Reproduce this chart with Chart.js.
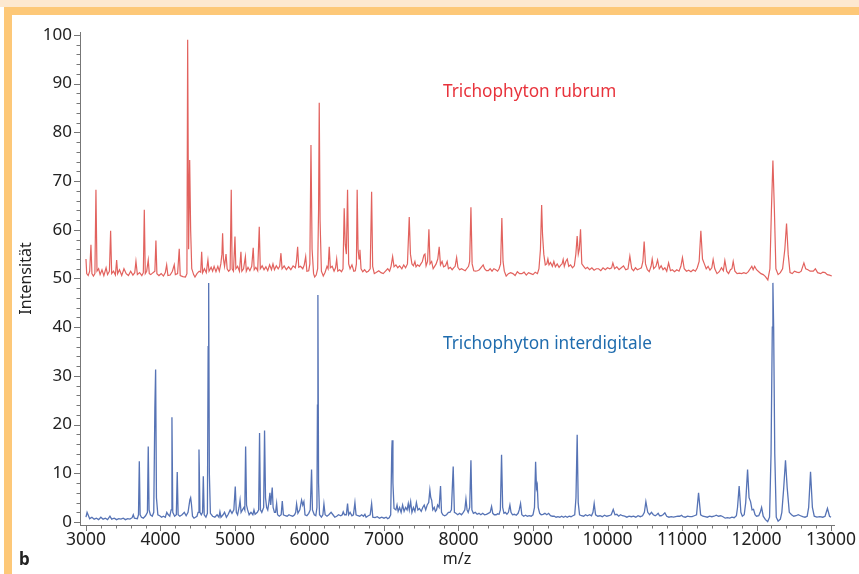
<!DOCTYPE html>
<html>
<head>
<meta charset="utf-8">
<script src="https://cdn.jsdelivr.net/npm/chart.js@4.4.1/dist/chart.umd.min.js"></script>
<style>
  html, body { margin: 0; padding: 0; background: #fff; }
  #wrap { position: relative; width: 859px; height: 574px; overflow: hidden; font-family: "Noto Sans", sans-serif; }
  .strip { position: absolute; left: 0; top: 0; width: 859px; height: 7px; background: #fde8d0; }
  .band { position: absolute; left: 4px; top: 7px; width: 855px; height: 8px; background: #fdc878; }
  .bar { position: absolute; left: 4px; top: 7px; width: 8px; height: 567px; background: #fdc878; }
  canvas { position: absolute; left: 0; top: 0; }
  .lbl { position: absolute; white-space: nowrap; font-size: 17.2px; }
  #red { left: 443px; top: 79px; color: #e8333c; }
  #blue { left: 443px; top: 331px; color: #1f6cae; }
  #panel { left: 19px; top: 547px; font-weight: bold; font-size: 17px; color: #222; }
</style>
</head>
<body>
<div id="wrap">
  <div class="strip"></div>
  <div class="band"></div>
  <div class="bar"></div>
  <canvas id="spectrumChart" width="859" height="574"></canvas>
  <div class="lbl" id="red">Trichophyton rubrum</div>
  <div class="lbl" id="blue">Trichophyton interdigitale</div>
  <div class="lbl" id="panel">b</div>
</div>
<script>
// tick labels
var xTicks = [3000, 4000, 5000, 6000, 7000, 8000, 9000, 10000, 11000, 12000, 13000];
var yTicks = [0, 10, 20, 30, 40, 50, 60, 70, 80, 90, 100];

// Trichophyton rubrum, [m/z, Intensität] (drawn with +50 offset as in the figure)
var rubrum = [
  [3000,54],[3010,51],[3030,50.6],[3050,51.5],[3067,56.9],[3080,51],[3100,50.5],[3120,51],[3134,68.2],[3148,51.5],
  [3170,52],[3190,50.8],[3215,51.8],[3240,50.6],[3270,52.2],[3290,50.8],[3315,51.5],[3331,59.8],[3345,51],[3370,51.5],
  [3395,50.7],[3412,53.8],[3425,51],[3450,51.8],[3480,50.6],[3510,52],[3540,51],[3570,50.6],[3600,51.5],[3630,50.7],
  [3655,51.2],[3671,53.5],[3690,50.8],[3720,51.2],[3750,50.6],[3770,51.2],[3783,64.1],[3796,51],[3815,51.5],[3836,53.8],
  [3850,51],[3870,50.8],[3900,51.2],[3925,51.5],[3939,57.8],[3952,51],[3980,50.6],[4010,51],[4040,50.5],[4065,51.2],
  [4083,52.8],[4100,50.6],[4130,50.7],[4160,51.5],[4185,52.8],[4200,50.8],[4230,51],[4252,56.1],[4265,50.6],[4300,50.4],
  [4335,50.3],[4355,51],[4365,99],[4378,56],[4392,74.3],[4405,60],[4420,52],[4445,50.8],[4463,50.3],[4490,51],
  [4520,51.5],[4540,51.3],[4553,55.5],[4566,51.2],[4590,52],[4615,51.2],[4637,53.8],[4652,51.5],[4680,52.3],[4700,51.5],
  [4720,52.5],[4745,51.4],[4770,52.5],[4790,51.5],[4810,53],[4825,55],[4834,59.3],[4845,54],[4860,52.5],[4880,55],
  [4895,52],[4915,51.5],[4935,51.8],[4950,68.2],[4962,52],[4980,51.5],[5000,58.6],[5012,52],[5035,52.5],[5060,51.5],
  [5080,55.5],[5092,51.5],[5115,52],[5140,54.5],[5152,51.5],[5175,52.3],[5200,51.6],[5225,52.5],[5245,56.3],[5258,51.8],
  [5280,52.3],[5305,51.6],[5326,60.6],[5340,52],[5365,52.6],[5390,51.8],[5415,52.4],[5440,51.6],[5465,52.8],[5490,51.8],
  [5510,53],[5530,51.8],[5555,52.6],[5580,52],[5600,52.5],[5617,55.2],[5632,52],[5660,52.6],[5690,51.8],[5720,52.4],
  [5750,51.8],[5780,52.6],[5810,52.2],[5825,53.5],[5841,56.5],[5856,52.3],[5880,52.5],[5910,52],[5930,52.8],[5949,54.5],
  [5965,51.5],[5990,51.6],[6005,53],[6020,77.4],[6035,56],[6055,51],[6070,50.3],[6090,50.7],[6110,52],[6122,64],
  [6131,86.1],[6142,62],[6160,51.5],[6185,50.5],[6210,51.3],[6235,52.5],[6250,52],[6265,56.5],[6280,52.2],[6305,52.5],
  [6330,51.5],[6350,52.2],[6365,54],[6380,51.5],[6405,51.8],[6430,51.4],[6450,52],[6466,64.4],[6480,57],[6495,55],
  [6511,68.2],[6526,53],[6545,52],[6570,52.8],[6595,51.5],[6615,51.6],[6630,53],[6640,68.2],[6652,56],[6665,54],
  [6677,55.9],[6692,52],[6715,51.4],[6740,51.8],[6765,51.3],[6790,51.5],[6815,52],[6834,67.8],[6848,52.5],[6870,51],
  [6900,51.3],[6930,51.6],[6960,51.2],[6990,51],[7020,51.5],[7050,52],[7075,51.5],[7095,52.5],[7116,54.5],[7135,52.4],
  [7160,52.8],[7185,52.2],[7210,52.6],[7240,52],[7265,52.8],[7290,52.2],[7315,53],[7339,62.6],[7355,55],[7375,53],
  [7395,52.6],[7415,53.5],[7430,52.4],[7450,52.8],[7475,52.5],[7495,53],[7515,53.5],[7536,54.8],[7550,55],[7565,52.6],
  [7585,53.5],[7603,60.1],[7618,53],[7640,53.5],[7660,52],[7680,52.5],[7700,53],[7722,54],[7741,56.5],[7758,52.8],
  [7780,53.5],[7800,52.4],[7825,52.6],[7848,53.5],[7865,52],[7890,52.3],[7915,51.8],[7935,52.2],[7955,52.5],[7975,54.3],
  [7992,52.3],[8015,51.8],[8040,52],[8065,51.8],[8090,51.6],[8110,52],[8135,52.5],[8150,53.5],[8167,64.6],[8183,53],
  [8205,51.6],[8230,51.5],[8255,51.6],[8280,51.8],[8305,52.3],[8331,52.8],[8350,52],[8375,51.6],[8400,51.6],[8425,52],
  [8450,51.5],[8475,52],[8500,51.8],[8525,51.5],[8545,52],[8565,53],[8582,62.4],[8598,53.5],[8615,51.5],[8640,50.5],
  [8670,51],[8700,51.2],[8730,51],[8760,50.6],[8790,51.4],[8820,51],[8850,51],[8880,51.3],[8910,50.7],[8940,51.2],
  [8970,51],[9000,50.8],[9030,51.3],[9060,51],[9080,52],[9100,56],[9116,65.1],[9128,59],[9145,55],[9165,52.8],
  [9185,53],[9200,54],[9215,52.8],[9235,53.3],[9260,52.5],[9280,53.5],[9300,52.4],[9325,53],[9350,52.3],[9375,52.8],
  [9390,53],[9405,53.9],[9420,52.5],[9440,53.5],[9460,54],[9480,52.5],[9505,52.8],[9530,52.2],[9555,52.6],[9575,55],
  [9593,58.7],[9608,55],[9622,56],[9638,60.1],[9655,53],[9680,52.5],[9705,52],[9730,52.3],[9760,51.8],[9790,52.2],
  [9820,51.7],[9850,52],[9880,52],[9910,51.6],[9940,52.2],[9970,51.8],[10000,52.2],[10030,52],[10055,52.2],[10072,53.2],
  [10095,52],[10125,52.4],[10155,51.8],[10185,52.2],[10215,52.6],[10245,51.8],[10275,52],[10300,54.6],[10325,52],[10350,51.6],
  [10375,52.2],[10400,51.8],[10430,52],[10455,52.2],[10475,53.5],[10492,57.6],[10510,53],[10535,51.8],[10560,51.4],[10585,52.5],
  [10600,54],[10620,52],[10650,52.5],[10672,53.8],[10695,52],[10720,52.6],[10745,51.8],[10770,52.2],[10795,51.5],[10820,53.2],
  [10845,51.6],[10870,51.8],[10900,51.4],[10930,51.8],[10960,51.5],[10985,52.5],[11006,54.3],[11030,52],[11060,51.5],[11090,51.7],
  [11120,51.4],[11150,51.8],[11180,51.5],[11205,52.2],[11230,53.5],[11253,59.8],[11275,54],[11300,53],[11325,52],[11350,52.5],
  [11375,51.7],[11400,52.2],[11418,53.9],[11440,52],[11470,51],[11500,51.4],[11530,52.2],[11555,51.6],[11575,53.7],[11600,51.5],
  [11625,51],[11650,51.8],[11670,52],[11687,53.5],[11710,51.5],[11740,51],[11770,51.1],[11800,51],[11830,51.2],[11860,51],
  [11890,51.4],[11915,52],[11937,52.5],[11955,51.8],[11975,52.5],[12000,51.8],[12030,51.4],[12060,51],[12090,50.8],[12120,50.4],
  [12152,49.7],[12180,52],[12200,64],[12220,74.2],[12240,64],[12260,52],[12290,50.8],[12320,51.2],[12350,52],[12380,56],
  [12403,61.3],[12425,55],[12450,51.2],[12480,51],[12510,51.5],[12540,51.3],[12570,51.2],[12600,51.5],[12636,53.2],[12660,52],
  [12690,51.8],[12720,51.5],[12762,51.5],[12790,52],[12820,51.2],[12860,51],[12890,51.3],[12920,51.2],[12950,50.8],[12980,50.7],
  [13010,50.5]
];

// Trichophyton interdigitale, [m/z, Intensität]
var interdigitale = [
  [3000,1],[3015,2],[3031,1.4],[3050,0.7],[3080,1],[3110,0.6],[3140,0.8],[3170,0.5],[3200,1],[3230,0.6],
  [3260,0.8],[3290,0.5],[3322,1.2],[3345,0.6],[3380,0.8],[3410,0.5],[3440,0.7],[3470,0.6],[3500,0.8],[3530,0.5],
  [3560,0.7],[3590,0.6],[3620,0.9],[3635,1.5],[3650,0.8],[3690,0.7],[3705,1.5],[3716,12.5],[3727,1.5],[3745,1],
  [3770,0.8],[3800,1.3],[3825,2],[3836,15.5],[3847,2.5],[3865,1.5],[3890,1.2],[3910,2],[3925,23.5],[3935,31.3],
  [3946,5],[3965,1.5],[3990,1.3],[4015,1],[4040,1.2],[4065,1],[4085,2],[4100,1.6],[4125,1.2],[4143,2.5],
  [4154,21.5],[4165,2],[4190,1.2],[4213,1.5],[4225,10.3],[4237,1.5],[4260,1.2],[4290,1.5],[4320,2],[4345,1.3],
  [4370,2],[4395,4.6],[4405,5],[4415,3.8],[4430,1.2],[4450,0.8],[4470,1],[4490,1.2],[4505,2],[4517,14.9],
  [4530,2],[4548,1.5],[4565,2],[4575,9.4],[4587,1.5],[4610,1],[4630,1.8],[4640,36],[4647,49.1],[4656,10],
  [4670,1.8],[4700,1.2],[4730,1],[4760,1.5],[4785,1],[4798,2.1],[4812,1],[4840,1.5],[4860,2],[4885,1],
  [4910,1.6],[4935,2.5],[4960,1.8],[4985,2.5],[5004,7.3],[5018,2],[5035,1.5],[5055,3],[5068,4.5],[5082,2],
  [5100,2.5],[5120,3],[5132,2.5],[5143,15.5],[5155,3.5],[5170,2.5],[5190,1.5],[5215,2],[5240,1.5],[5255,2.5],
  [5270,1.6],[5300,2],[5318,2.5],[5330,18.3],[5342,2.5],[5360,2],[5385,3],[5397,18.8],[5410,5],[5425,3],
  [5440,2.5],[5455,4],[5469,6],[5480,3.5],[5500,7.1],[5512,3],[5530,2],[5545,2],[5559,3.8],[5572,1.5],
  [5595,1.2],[5620,1.5],[5635,4.3],[5650,1.5],[5675,1.3],[5700,1.2],[5725,1.5],[5750,1.3],[5775,1.2],[5800,1.5],
  [5815,2],[5827,3.7],[5845,1.8],[5870,2.5],[5894,4.5],[5910,3.5],[5925,4.2],[5940,1.5],[5965,1.3],[5990,1.8],
  [6010,2.5],[6028,10.8],[6040,2.5],[6065,1.5],[6085,1.3],[6100,3],[6107,24],[6113,46.6],[6122,8],[6135,1.5],
  [6160,1],[6180,1.5],[6194,3.7],[6210,1.5],[6235,1.2],[6260,1.5],[6290,2],[6315,1.5],[6340,1],[6365,1.2],
  [6390,1.5],[6420,1.3],[6440,1.5],[6453,2.1],[6470,1.5],[6495,1.5],[6511,3.8],[6525,1.5],[6545,2],[6570,1.3],
  [6590,1.5],[6610,4],[6625,1.5],[6650,1.3],[6675,1.2],[6700,1.5],[6725,1.2],[6744,1.6],[6760,1],[6790,1.3],
  [6815,1.5],[6834,3.8],[6850,1],[6880,0.9],[6910,1.1],[6940,0.8],[6970,1],[7000,0.8],[7030,1],[7050,0.7],
  [7070,0.9],[7090,1.5],[7105,15],[7110,16.8],[7120,8],[7135,2.8],[7160,2.5],[7175,3.5],[7190,2.2],[7210,3],
  [7230,2],[7250,3.5],[7270,2.2],[7290,3],[7310,2.5],[7326,3.8],[7340,2.5],[7358,4.2],[7375,2],[7395,3],
  [7415,2.2],[7435,4],[7455,2.5],[7475,2.8],[7500,2.2],[7520,3],[7540,3.5],[7560,2.5],[7580,3.5],[7600,4],
  [7616,6.6],[7628,5],[7640,4.5],[7655,2.5],[7675,3],[7690,2.2],[7705,2.5],[7720,3.5],[7740,3],[7759,7.4],
  [7772,2],[7790,1.5],[7815,1.3],[7840,1.5],[7865,2],[7885,2],[7905,2.5],[7929,11.4],[7945,2],[7965,1.8],
  [7990,1.5],[8015,1.8],[8040,1.5],[8065,2],[8085,2.5],[8100,4.7],[8115,2.5],[8130,2],[8150,3],[8167,12.7],
  [8180,2.5],[8200,1.8],[8225,2],[8250,1.6],[8275,1.8],[8300,1.5],[8325,1.8],[8350,1.5],[8375,1.6],[8400,1.8],
  [8425,2],[8444,3.2],[8460,1.8],[8480,1.5],[8505,1.5],[8525,1.7],[8545,1.6],[8562,2.5],[8578,13.8],[8593,3],
  [8610,1.8],[8630,2],[8650,1.6],[8670,2],[8690,3.5],[8705,2],[8725,1.5],[8750,1.6],[8775,1.4],[8800,1.8],
  [8815,2.5],[8833,3.8],[8850,1.5],[8875,1.2],[8900,1.4],[8925,1.2],[8950,1.3],[8975,1.2],[9000,1.5],[9020,3],
  [9035,12.4],[9047,7],[9057,7.6],[9070,3],[9090,1.8],[9110,1.5],[9135,1.6],[9160,1.8],[9185,1.5],[9210,1.8],
  [9235,1.3],[9260,1.2],[9285,1.2],[9310,1],[9335,1.1],[9360,1],[9385,1.2],[9410,1],[9435,1.2],[9460,1],
  [9485,1.2],[9510,1.1],[9535,1.3],[9560,1.5],[9577,5],[9593,17.9],[9607,4],[9625,1.5],[9650,1.3],[9680,1.2],
  [9705,1.5],[9730,1.3],[9760,1.5],[9785,1.3],[9805,2],[9821,3.8],[9840,1.5],[9870,1.2],[9900,1.3],[9930,1.1],
  [9960,1.4],[9990,1.2],[10020,1.3],[10050,1.5],[10077,2.6],[10100,1.5],[10125,1.6],[10150,1.2],[10175,1.5],[10200,1.3],
  [10230,1.2],[10260,1],[10290,1.2],[10320,1.1],[10350,1.2],[10380,1],[10410,1.3],[10440,1.1],[10470,1.3],[10495,2],
  [10515,4.2],[10540,2],[10565,1.5],[10590,2],[10615,1.5],[10640,1.3],[10660,1.5],[10680,1.8],[10700,1.3],[10720,1.3],
  [10745,1.5],[10770,1.9],[10795,1.2],[10825,1],[10855,1.1],[10885,1],[10915,1.1],[10945,1.2],[10970,1.2],[10993,1.4],
  [11015,1.1],[11045,1],[11075,1.2],[11105,1.1],[11135,1.1],[11165,1.3],[11195,1.5],[11222,6],[11250,1.5],[11280,1.2],
  [11310,1.1],[11340,1],[11370,1.2],[11400,1.1],[11430,1.2],[11460,1.4],[11490,1.2],[11520,1.3],[11550,1.1],[11580,0.8],
  [11610,0.9],[11640,0.8],[11670,1],[11700,0.9],[11730,1.3],[11745,3],[11767,7.4],[11790,2],[11810,1.2],[11835,1.5],
  [11855,4],[11880,10.8],[11900,5],[11920,4.2],[11940,2.5],[11960,2.6],[11980,1.5],[12000,1.2],[12030,1.3],[12050,2],
  [12068,3],[12090,1.2],[12120,0.5],[12150,0.1],[12175,1],[12195,14],[12212,40],[12220,49.1],[12230,40],[12245,14],
  [12265,1],[12290,0.2],[12320,0.6],[12340,2],[12365,7],[12389,12.7],[12412,7],[12440,2],[12470,1.5],[12500,1.2],
  [12530,1.3],[12560,1.5],[12590,1.3],[12620,1.1],[12650,1],[12680,1.2],[12700,3],[12725,10.3],[12750,3],[12775,1.2],
  [12810,1],[12850,1.1],[12890,1],[12920,1.2],[12952,2.8],[12980,1.2],[13000,1]
];

Chart.defaults.font.family = '"Noto Sans", sans-serif';
Chart.defaults.color = '#222';

// axis tick marks: long at labelled values, short in between
var tickMarks = {
    id: 'tickMarks',
    afterDraw: function(chart) {
        var ctx = chart.ctx;
        var area = chart.chartArea;
        var x = chart.scales.x, y = chart.scales.y;
        ctx.save();
        ctx.strokeStyle = '#777';
        ctx.lineWidth = 1;
        ctx.beginPath();
        for (var i = 0; i <= 50; i++) {
            var py = Math.round(y.getPixelForValue(i * 2)) + 0.5;
            var len = (i % 5 === 0) ? 6 : 3.5;
            ctx.moveTo(area.left - len, py);
            ctx.lineTo(area.left, py);
        }
        for (var j = 0; j <= 50; j++) {
            var px = Math.round(x.getPixelForValue(3000 + j * 200)) + 0.5;
            var l2 = (j % 5 === 0) ? 6 : 3.5;
            ctx.moveTo(px, area.bottom);
            ctx.lineTo(px, area.bottom + l2);
        }
        ctx.stroke();
        ctx.restore();
    }
};

var ctx = document.getElementById('spectrumChart').getContext('2d');
var spectrumChart = new Chart(ctx, {
    type: 'line',
    data: {
        datasets: [{
            label: 'Trichophyton rubrum',
            data: rubrum.map(function(p) { return {x: p[0], y: p[1]}; }),
            borderColor: '#e2625e',
            borderWidth: 1.2,
            pointRadius: 0,
            tension: 0
        }, {
            label: 'Trichophyton interdigitale',
            data: interdigitale.map(function(p) { return {x: p[0], y: p[1]}; }),
            borderColor: '#5673b5',
            borderWidth: 1.3,
            pointRadius: 0,
            tension: 0
        }]
    },
    options: {
        responsive: false,
        animation: false,
        layout: { padding: { top: 32, right: 25, left: 0, bottom: 0 } },
        plugins: {
            legend: { display: false },
            tooltip: { enabled: false }
        },
        scales: {
            x: {
                type: 'linear',
                min: 2920,
                max: 13040,
                afterFit: function(scale) {
                    scale.height = 49;
                    scale.paddingLeft = 0;
                    scale.paddingRight = 0;
                },
                afterBuildTicks: function(scale) {
                    scale.ticks = xTicks.map(function(v) { return {value: v}; });
                },
                grid: { display: false, drawTicks: false },
                border: { display: true, color: '#777', width: 1 },
                ticks: {
                    padding: 5, maxRotation: 0, autoSkip: false, font: { size: 17.5 }, color: '#222',
                    callback: function(v) { return String(v); }
                },
                title: { display: true, text: 'm/z', font: { size: 16 }, color: '#222', padding: { top: 0, bottom: 5 } }
            },
            y: {
                min: -0.6,
                max: 100.6,
                afterFit: function(scale) { scale.width = 80; },
                afterBuildTicks: function(scale) {
                    scale.ticks = yTicks.map(function(v) { return {value: v}; });
                },
                grid: { display: false, drawTicks: false },
                border: { display: true, color: '#777', width: 1 },
                ticks: { padding: 8, font: { size: 17 }, color: '#222', callback: function(v) { return String(v); } },
                title: { display: true, text: 'Intensität', font: { size: 16 }, color: '#222', padding: { top: 17, bottom: 0 } }
            }
        }
    },
    plugins: [tickMarks]
});
</script>
</body>
</html>
